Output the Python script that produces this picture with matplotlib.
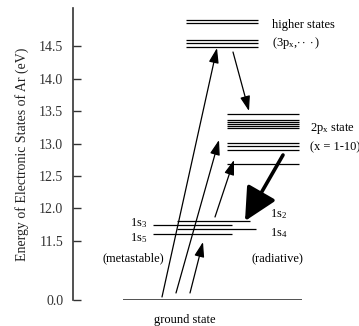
import matplotlib
matplotlib.use("Agg")
import matplotlib.pyplot as plt

plt.rcParams['font.family'] = ['Liberation Serif', 'DejaVu Serif']
plt.rcParams['mathtext.fontset'] = 'custom'
plt.rcParams['mathtext.rm'] = 'Liberation Serif'
plt.rcParams['mathtext.it'] = 'Liberation Serif'

# ---- data (energies in eV) ----
higher_states = [14.900, 14.858, 14.592, 14.546, 14.485]
p2_states = [13.454, 13.362, 13.331, 13.300, 13.269, 13.238, 13.008, 12.954, 12.900, 12.677]
s1_names = ["1s2", "1s3", "1s4", "1s5"]
s1_energies = [11.815, 11.746, 11.677, 11.615]
ground_energy = 0.0
tick_values = [11.5, 12.0, 12.5, 13.0, 13.5, 14.0, 14.5]
tick_labels = ["11.5", "12.0", "12.5", "13.0", "13.5", "14.0", "14.5"]

# broken axis: ground state drawn at this plotted position
Y_GROUND = 10.592

W, H = 359, 326
fig = plt.figure(figsize=(W / 100, H / 100), dpi=100)
ax = fig.add_axes([73 / W, (H - 300) / H, (W - 73) / W, 292 / H])
ax.set_xlim(73, 359)
ax.set_ylim(Y_GROUND, 15.085)
for s in ['top', 'right', 'bottom']:
    ax.spines[s].set_visible(False)
ax.spines['left'].set_color('#333333')
ax.spines['left'].set_linewidth(1.2)
ax.set_xticks([])
ax.set_yticks([Y_GROUND] + tick_values)
ax.set_yticklabels(["0.0"] + tick_labels)
ax.tick_params(axis='y', direction='in', length=6, width=1.0, pad=7,
               labelsize=10, colors='#333333')
ax.set_ylabel("Energy of Electronic States of Ar (eV)", fontsize=10,
              labelpad=7, color='#222222')

lw = 0.9
# higher states
for e in higher_states:
    ax.plot([186, 258], [e, e], color='black', lw=lw, solid_capstyle='butt')
# 2p states
for e in p2_states:
    ax.plot([227, 299], [e, e], color='black', lw=lw, solid_capstyle='butt')
# 1s states
s1_x = {"1s2": (177, 250), "1s3": (153, 232), "1s4": (177, 256), "1s5": (153, 232)}
for n, e in zip(s1_names, s1_energies):
    x0, x1 = s1_x[n]
    ax.plot([x0, x1], [e, e], color='black', lw=lw, solid_capstyle='butt')
# ground
ax.plot([123, 302], [Y_GROUND, Y_GROUND], color='#222222', lw=1.1, solid_capstyle='butt')

def px2e(py):
    return 11.5 + (241 - py) / 65.0

def arrow(x0, y0, x1, y1, lw=0.9, hl=0.9, hw=0.3, ms=10):
    ax.annotate("", xy=(x1, y1), xytext=(x0, y0),
                arrowprops=dict(arrowstyle=f"-|>,head_length={hl},head_width={hw}",
                                lw=lw, color='black', mutation_scale=ms,
                                shrinkA=0, shrinkB=0),
                annotation_clip=False)

# excitation from ground
arrow(162, px2e(297), 217, px2e(48))
arrow(176, px2e(293), 219, px2e(140))
arrow(190, px2e(293), 203, px2e(242))
# 1s -> 2p
arrow(215, px2e(217), 234, px2e(160))
# higher -> 2p
arrow(233, px2e(52), 249, px2e(111))
# 2p -> 1s2 (thick)
arrow(283, px2e(155), 245, px2e(221), lw=2.6, hl=1.0, hw=0.5, ms=20)

fs = 9
ax.text(272, px2e(25), "higher states", fontsize=fs, va='center', ha='left')
ax.text(272, px2e(43), r"(3p$_{\mathrm{x}}$,$\cdot\cdot\cdot$)", fontsize=fs, va='center', ha='left')
ax.text(310, px2e(128), r"2p$_{\mathrm{x}}$ state", fontsize=fs, va='center', ha='left')
ax.text(310, px2e(147), "(x = 1-10)", fontsize=fs, va='center', ha='left')
ax.text(130, px2e(223), r"1s$_3$", fontsize=fs, va='center', ha='left')
ax.text(130, px2e(238), r"1s$_5$", fontsize=fs, va='center', ha='left')
ax.text(133, px2e(258), "(metastable)", fontsize=fs, va='center', ha='center')
ax.text(270, px2e(214), r"1s$_2$", fontsize=fs, va='center', ha='left')
ax.text(270, px2e(233), r"1s$_4$", fontsize=fs, va='center', ha='left')
ax.text(277, px2e(258), "(radiative)", fontsize=fs, va='center', ha='center')
ax.text(185, px2e(320), "ground state", fontsize=fs, va='center', ha='center')

fig.savefig("out.png", dpi=100)
